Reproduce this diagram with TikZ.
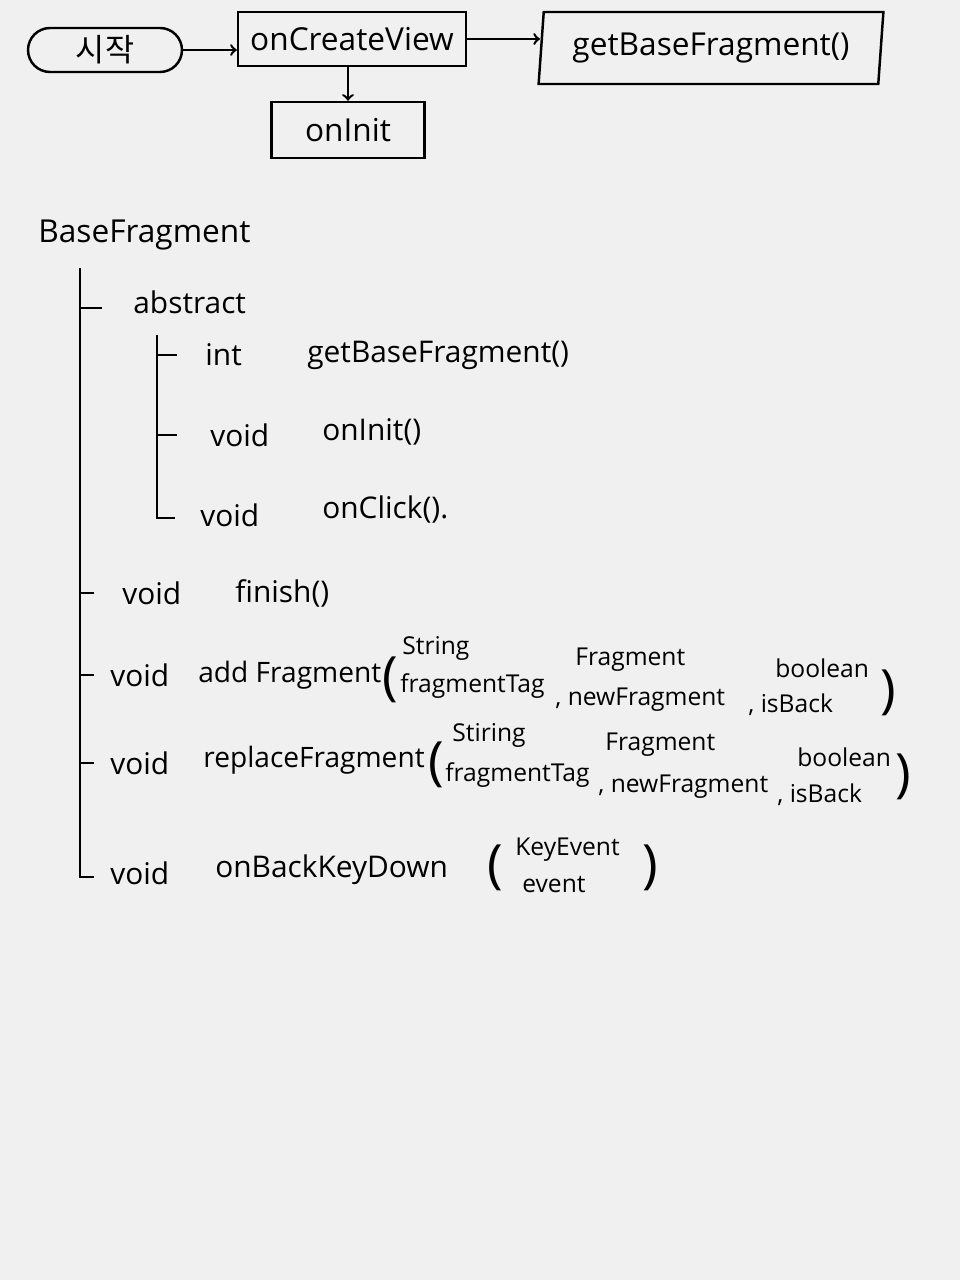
\documentclass[tikz,border=0pt]{standalone}
\usepackage{fontspec}
\setmainfont{Open Sans}
\newfontfamily\krfont{Noto Sans CJK KR}
\usetikzlibrary{shapes.geometric, arrows}
\usetikzlibrary{positioning}
\definecolor{paper}{HTML}{F0F0F0}
\tikzstyle{flow} = [line width=1.4pt,->,>=to]
\tikzstyle{branch} = [line width=1.4pt]
\tikzstyle{box} = [draw, line width=1.4pt, rectangle, inner sep=0pt, font=\fontsize{18}{22}\selectfont]
\tikzstyle{item} = [anchor=west, inner sep=0pt, font=\fontsize{17}{21}\selectfont]
\tikzstyle{call} = [anchor=west, inner sep=0pt, font=\fontsize{16}{19}\selectfont]
\tikzstyle{arg} = [anchor=west, inner sep=0pt, font=\fontsize{14}{17}\selectfont]
\tikzstyle{paren} = [inner sep=0pt, font=\fontsize{30}{30}\selectfont]

\begin{document}
\begin{tikzpicture}[x=0.02cm, y=-0.02cm]
        \fill[paper] (0,0) rectangle (960,1280);
        \useasboundingbox (0,0) rectangle (960,1280);

        % flow at the top
        \node (start) [box, rounded corners=0.44cm, minimum width=3.08cm, minimum height=0.88cm] at (105,50) {\krfont 시작};
        \node (create) [box, minimum width=4.56cm, minimum height=1.08cm] at (352,39) {onCreateView};
        \node (getbase) [box, trapezium, trapezium left angle=82, trapezium right angle=98, trapezium stretches=true, minimum width=6.9cm, minimum height=1.44cm] at (711,48) {getBaseFragment()};
        \node (init) [box, minimum width=3.06cm, minimum height=1.12cm] at (348,130) {onInit};
        \draw [flow] (start) -- (start -| create.west);
        \draw [flow] (create) -- (create -| getbase.west);
        \draw [flow] (create.south -| init) -- (init);

        % class tree
        \node (cls) [item, font=\fontsize{18}{22}\selectfont] at (38,235) {BaseFragment};
        \coordinate (t0) at (80,268);
        \coordinate (t1) at (80,877);
        \draw [branch] (t0) -- (t1) -- ++(14,0);

        \node (abs) [item] at (133,302) {abstract};
        \draw [branch] (t0 |- abs.west) ++(0,6) -- ++(22,0);

        \coordinate (s0) at (157,335);
        \coordinate (s1) at (157,518);
        \draw [branch] (s0) -- (s1) -- ++(18,0);
        \node (m1t) [item] at (205,355) {int};
        \node (m1) [item] at (307,355) {getBaseFragment()};
        \node (m2t) [item] at (210,435) {void};
        \node (m2) [item] at (322,432) {onInit()};
        \node (m3t) [item] at (200,515) {void};
        \node (m3) [item] at (322,510) {onClick().};
        \draw [branch] (s0 |- m1t.west) -- ++(20,0);
        \draw [branch] (s0 |- m2t.west) -- ++(20,0);

        \node (finT) [item] at (122,593) {void};
        \node (fin) [item] at (235,593) {finish()};
        \draw [branch] (t0 |- finT.west) -- ++(14,0);

        % addFragment
        \node (addT) [item] at (110,675) {void};
        \node (add) [call] at (198,675) {add Fragment};
        \node (addL) [paren] at (390,680) {(};
        \node (a1t) [arg] at (402,648) {String};
        \node (a1) [arg] at (400,686) {fragmentTag};
        \node (a2t) [arg] at (575,660) {Fragment};
        \node (a2) [arg] at (555,700) {, newFragment};
        \node (a3t) [arg] at (775,668) {boolean};
        \node (a3) [arg] at (748,705) {, isBack};
        \node (addR) [paren] at (888,693) {)};
        \draw [branch] (t0 |- addT.west) -- ++(14,0);

        % replaceFragment
        \node (repT) [item] at (110,763) {void};
        \node (rep) [call] at (203,760) {replaceFragment};
        \node (repL) [paren] at (436,765) {(};
        \node (r1t) [arg] at (452,735) {Stiring};
        \node (r1) [arg] at (445,775) {fragmentTag};
        \node (r2t) [arg] at (605,745) {Fragment};
        \node (r2) [arg] at (598,787) {, newFragment};
        \node (r3t) [arg] at (797,757) {boolean};
        \node (r3) [arg] at (777,795) {, isBack};
        \node (repR) [paren] at (903,777) {)};
        \draw [branch] (t0 |- repT.west) -- ++(14,0);

        % onBackKeyDown
        \node (backT) [item] at (110,873) {void};
        \node (back) [item] at (215,870) {onBackKeyDown};
        \node (backL) [paren] at (495,868) {(};
        \node (b1t) [arg] at (515,850) {KeyEvent};
        \node (b1) [arg] at (522,885) {event};
        \node (backR) [paren] at (650,868) {)};
      \end{tikzpicture}
\end{document}
